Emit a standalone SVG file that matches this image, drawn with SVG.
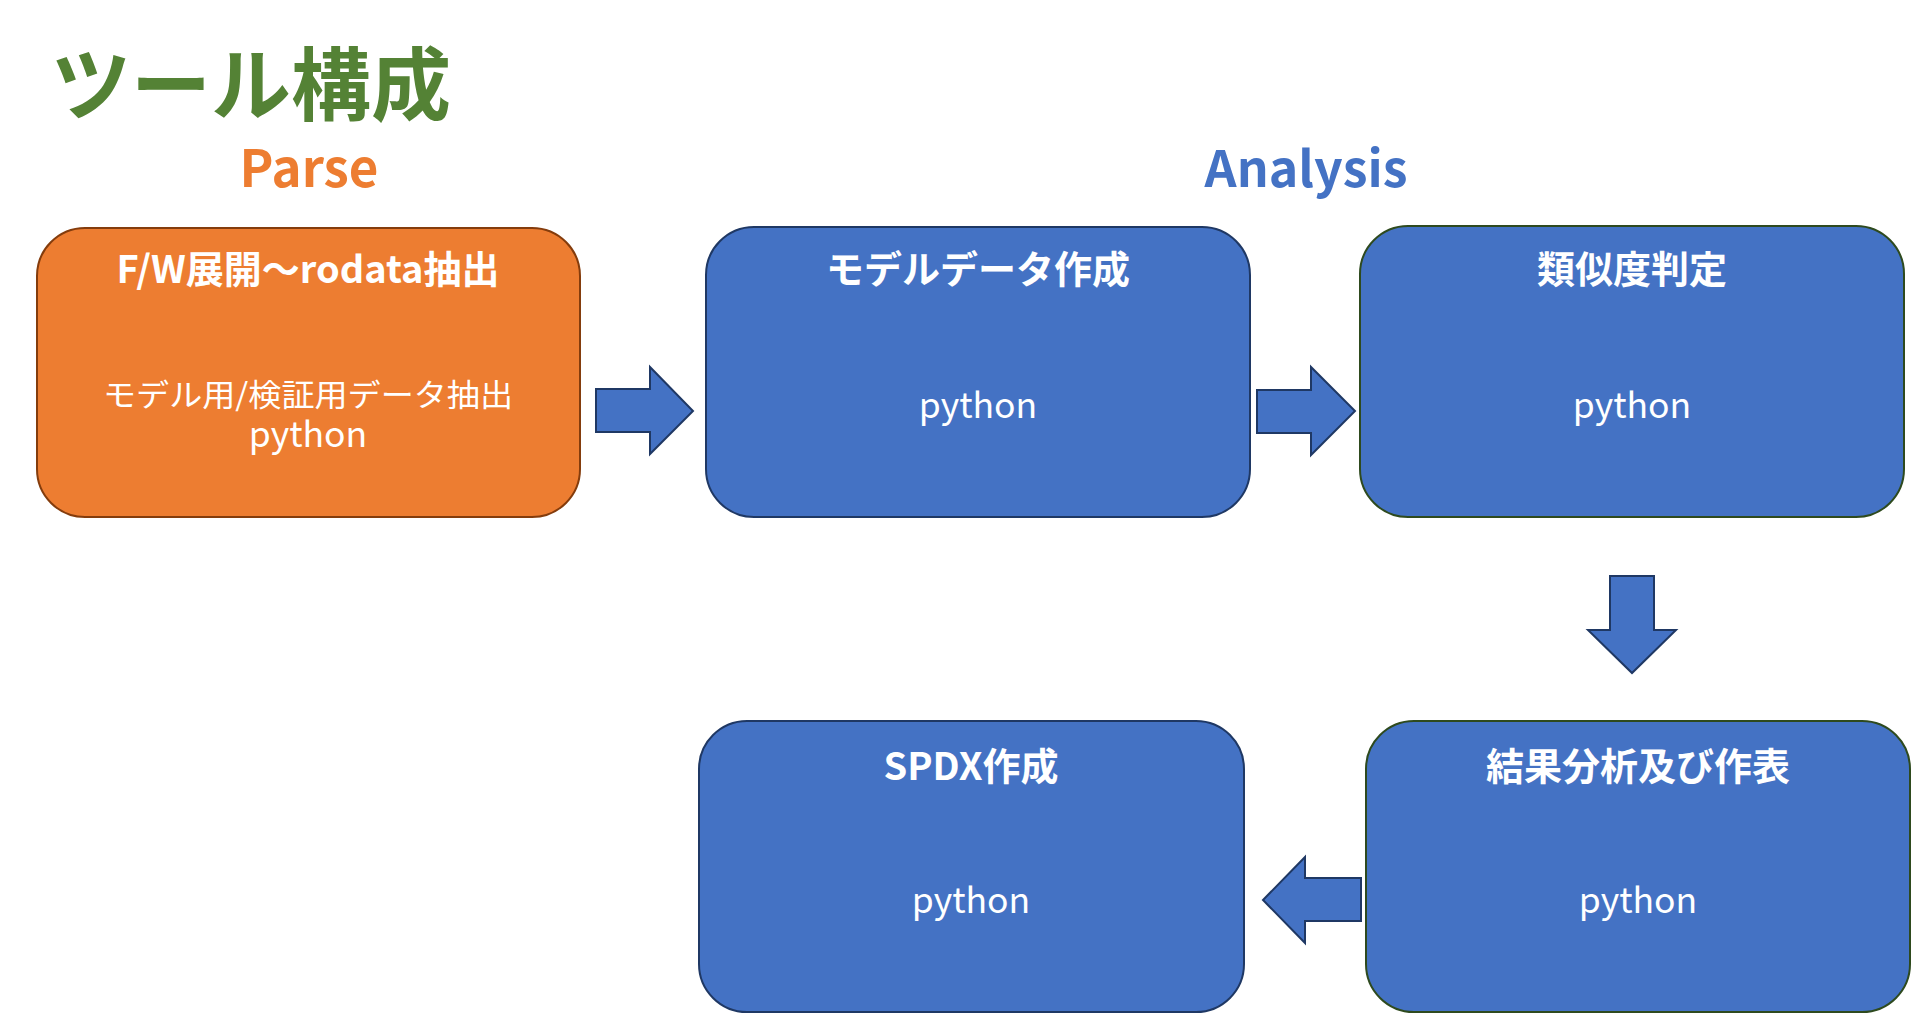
<svg xmlns="http://www.w3.org/2000/svg" width="1923" height="1014" viewBox="0 0 1923 1014">
<style>
text{font-family:"Noto Sans CJK JP","Liberation Sans",sans-serif;}
.t{fill:#fff;font-weight:bold;font-size:38px;text-anchor:middle;}
.p{fill:#fff;font-size:35.5px;text-anchor:middle;}
.blue{fill:#4472C4;stroke-width:2;}
.arr{fill:#4472C4;stroke:#1F3864;stroke-width:2;stroke-linejoin:miter;}
</style>
<rect width="1923" height="1014" fill="#fff"/>
<text x="51" y="114" font-size="80" font-weight="bold" fill="#548235">ツール構成</text>
<text x="309" y="187" font-size="51" font-weight="bold" fill="#ED7D31" text-anchor="middle">Parse</text>
<text x="1306" y="187" font-size="50" font-weight="bold" fill="#4472C4" text-anchor="middle">Analysis</text>
<g id="node-parse">
<rect x="37" y="228" width="543" height="289" rx="48" fill="#ED7D31" stroke="#843C0C" stroke-width="2"/>
<text class="t" x="308" y="283">F/W展開～rodata抽出</text>
<text class="p" x="308" y="406"><tspan x="308" y="406" font-size="31" textLength="410" lengthAdjust="spacingAndGlyphs">モデル用/検証用データ抽出</tspan><tspan x="308" y="447">python</tspan></text>
</g>
<g id="node-model">
<rect class="blue" x="706" y="227" width="544" height="290" rx="48" stroke="#1F3864"/>
<text class="t" x="978" y="283">モデルデータ作成</text>
<text class="p" x="978" y="418">python</text>
</g>
<g id="node-similarity">
<rect class="blue" x="1360" y="226" width="544" height="291" rx="48" stroke="#2E4A1E"/>
<text class="t" x="1632" y="283">類似度判定</text>
<text class="p" x="1632" y="418">python</text>
</g>
<g id="node-result">
<rect class="blue" x="1366" y="721" width="544" height="291" rx="48" stroke="#2E4A1E"/>
<text class="t" x="1638" y="780">結果分析及び作表</text>
<text class="p" x="1638" y="913">python</text>
</g>
<g id="node-spdx">
<rect class="blue" x="699" y="721" width="545" height="291" rx="48" stroke="#1F3864"/>
<text class="t" x="971" y="780">SPDX作成</text>
<text class="p" x="971" y="913">python</text>
</g>
<g id="connectors">
<polygon class="arr" points="596,389 650,389 650,367 693,411 650,454 650,432 596,432"/>
<polygon class="arr" points="1257,390 1311,390 1311,367 1355,411 1311,455 1311,433 1257,433"/>
<polygon class="arr" points="1610,576 1654,576 1654,630 1676,630 1632,673 1588,630 1610,630"/>
<polygon class="arr" points="1361,878 1305,878 1305,857 1263,900 1305,943 1305,921 1361,921"/>
</g>
</svg>
